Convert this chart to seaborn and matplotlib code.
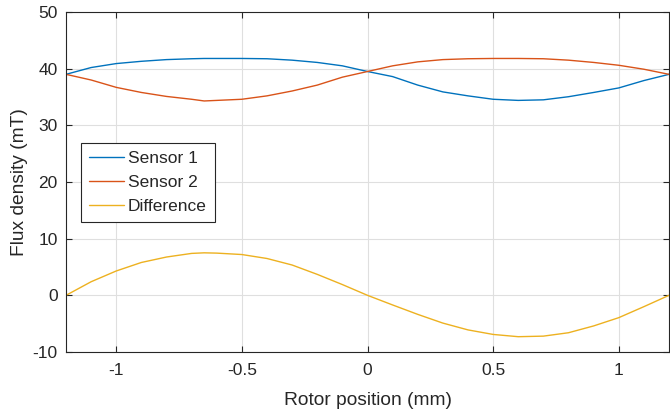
import numpy as np
import pandas as pd
import matplotlib
matplotlib.use("Agg")
import matplotlib.pyplot as plt
import seaborn as sns

# ---- data ----
position = [-1.2, -1.1, -1.0, -0.9, -0.8, -0.7, -0.65, -0.6, -0.5, -0.4, -0.3, -0.2, -0.1,
            0.0, 0.1, 0.2, 0.3, 0.4, 0.5, 0.6, 0.7, 0.8, 0.9, 1.0, 1.1, 1.2]
sensor1 = [39.0, 40.2, 40.9, 41.3, 41.6, 41.75, 41.8, 41.8, 41.8, 41.75, 41.5, 41.1, 40.5,
           39.5, 38.6, 37.1, 35.9, 35.2, 34.6, 34.4, 34.5, 35.05, 35.8, 36.6, 37.9, 39.0]
sensor2 = [39.0, 38.0, 36.7, 35.8, 35.1, 34.6, 34.3, 34.4, 34.6, 35.2, 36.06, 37.1, 38.5,
           39.5, 40.5, 41.2, 41.6, 41.75, 41.8, 41.8, 41.75, 41.5, 41.1, 40.6, 39.9, 39.0]
difference = [0.0, 2.4, 4.3, 5.8, 6.76, 7.4, 7.5, 7.45, 7.2, 6.5, 5.35, 3.7, 1.9,
              0.0, -1.7, -3.36, -4.9, -6.1, -6.9, -7.3, -7.2, -6.6, -5.4, -3.94, -2.0, 0.0]
series_names = ["Sensor 1", "Sensor 2", "Difference"]
x_ticks = [-1, -0.5, 0, 0.5, 1]
x_tick_labels = ["-1", "-0.5", "0", "0.5", "1"]
y_ticks = [-10, 0, 10, 20, 30, 40, 50]
y_tick_labels = ["-10", "0", "10", "20", "30", "40", "50"]

df = pd.concat([
    pd.DataFrame({"pos": position, "val": sensor1, "series": series_names[0]}),
    pd.DataFrame({"pos": position, "val": sensor2, "series": series_names[1]}),
    pd.DataFrame({"pos": position, "val": difference, "series": series_names[2]}),
], ignore_index=True)

sns.set_theme(style="white")
plt.rcParams["font.family"] = ["Liberation Sans", "DejaVu Sans"]
plt.rcParams["axes.unicode_minus"] = False

fig = plt.figure(figsize=(6.7, 4.12), dpi=100)
ax = fig.add_axes([66 / 670, 60 / 412, 603 / 670, 340 / 412])

palette = {"Sensor 1": "#0072BD", "Sensor 2": "#D95319", "Difference": "#EDB120"}
sns.lineplot(data=df, x="pos", y="val", hue="series", hue_order=series_names,
             palette=palette, linewidth=1.0, ax=ax, sort=False, estimator=None)

ax.set_xlim(-1.2, 1.2)
ax.set_ylim(-10, 50)
ax.set_xticks(x_ticks)
ax.set_xticklabels(x_tick_labels)
ax.set_yticks(y_ticks)
ax.set_yticklabels(y_tick_labels)

ax.grid(True, color="#DFDFDF", linewidth=0.8)
ax.set_axisbelow(True)
for s in ax.spines.values():
    s.set_visible(True)
    s.set_color("#262626")
    s.set_linewidth(0.8)

ax.tick_params(axis="both", which="both", direction="in", length=4, width=0.8,
               color="#262626", labelcolor="#262626", labelsize=12.5,
               top=True, right=True, bottom=True, left=True)
ax.tick_params(axis="x", pad=8)
ax.tick_params(axis="y", pad=6)

ax.set_xlabel("Rotor position (mm)", fontsize=13.8, color="#262626", labelpad=10)
ax.set_ylabel("Flux density (mT)", fontsize=13.8, color="#262626", labelpad=3)

leg = ax.legend(loc="upper left", bbox_to_anchor=(15 / 603, (352 - 143) / 340),
                borderaxespad=0, fontsize=12.5, frameon=True, fancybox=False,
                handlelength=2.0, handletextpad=0.25, labelspacing=0.52,
                borderpad=0.45, title=None)
leg.get_frame().set_edgecolor("#262626")
leg.get_frame().set_linewidth(0.8)
leg.get_frame().set_facecolor("white")
leg.get_frame().set_alpha(1.0)
for line in leg.get_lines():
    line.set_linewidth(1.0)

fig.savefig("out.png", dpi=100)
